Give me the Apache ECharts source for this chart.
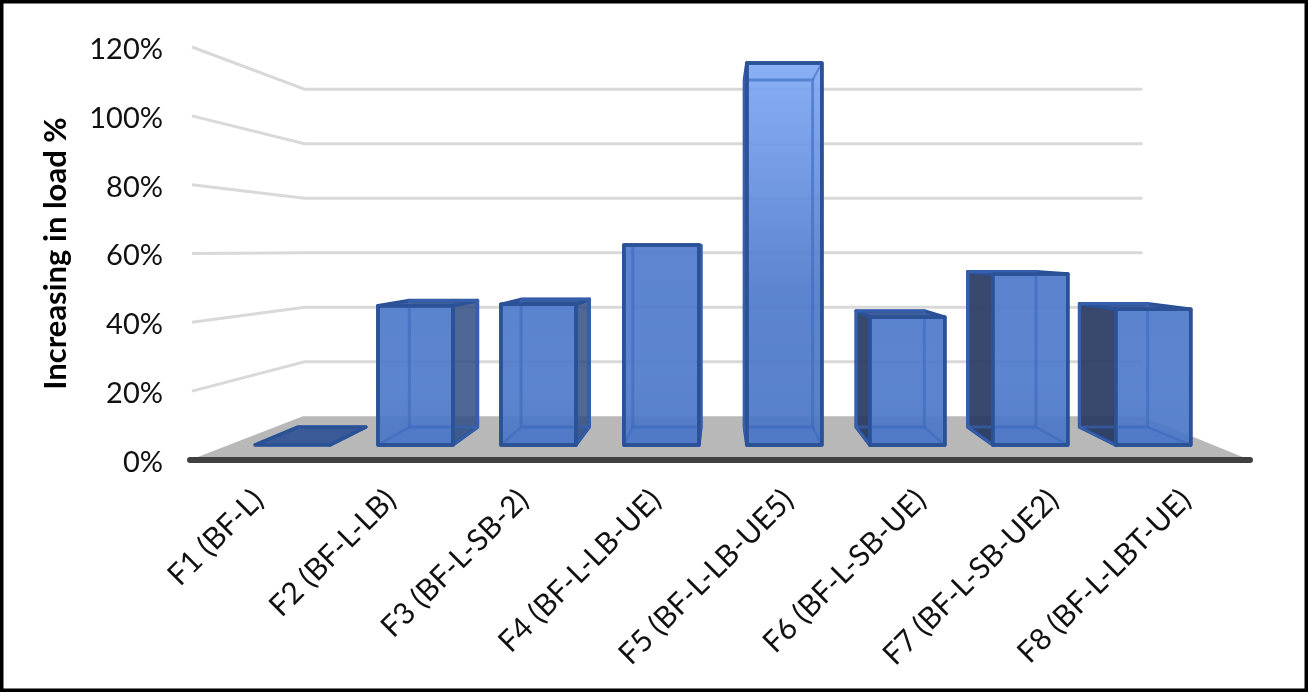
<!DOCTYPE html>
<html>
<head>
<meta charset="utf-8">
<title>Increasing in load</title>
<script src="https://cdn.jsdelivr.net/npm/echarts@6/dist/echarts.min.js"></script>
<style>
html,body{margin:0;padding:0;background:#fff;}
#main{width:1308px;height:692px;}
</style>
</head>
<body>
<div id="main"></div>
<script>
var categories = ['F1 (BF-L)','F2 (BF-L-LB)','F3 (BF-L-SB-2)','F4 (BF-L-LB-UE)','F5 (BF-L-LB-UE5)','F6 (BF-L-SB-UE)','F7 (BF-L-SB-UE2)','F8 (BF-L-LBT-UE)'];
var loadValues = [0,43.6,44,62.6,119.6,40,53.5,42.5];
var yTicks = [0,20,40,60,80,100,120];

// fake 3d: everything is projected towards a vanishing point
var vanishY = 250;
var wall = {x:733, s:0.792};
var barFront = {x:760, s:0.928};
var barBack = {x:737, s:0.843};
var barRatio = 0.61;

function project(p, plane){
	return [plane.x + (p[0]-plane.x)*plane.s, vanishY + (p[1]-vanishY)*plane.s];
}

var edgeColor = '#2b5297';
var innerEdge = 'rgba(60,105,188,0.6)';
var fontName = 'Lato';

function face(points, fill, stroke, width){
	return {
		type:'polygon',
		shape:{points:points},
		style:{fill:fill, stroke:stroke||edgeColor, lineWidth:width||3.5, lineJoin:'round'}
	};
}

function edge(points, width){
	return {
		type:'polyline',
		shape:{points:points},
		style:{fill:null, stroke:innerEdge, lineWidth:width||3}
	};
}

function renderFloor(params, api){
	var cs = params.coordSys;
	var l = [cs.x, cs.y+cs.height], r = [cs.x+cs.width, cs.y+cs.height];
	return {
		type:'polygon',
		shape:{points:[l, project(l,wall), project(r,wall), r]},
		style:{fill:'#b8b8b8'}
	};
}

function renderWallLine(params, api){
	var cs = params.coordSys;
	var y = api.coord([0, api.value(0)])[1];
	var a = [cs.x+2, y], b = [cs.x+cs.width, y];
	return {
		type:'polyline',
		shape:{points:[a, project(a,wall), project(b,wall)]},
		style:{fill:null, stroke:'#d9d9d9', lineWidth:3}
	};
}

// only the tall bar gets the lighter top
function topColor(v){
	var t = Math.max(0, (v-60)/60);
	return 'rgba(' + Math.round(77+51*t) + ',' + Math.round(121+48*t) + ',' + Math.round(203+42*t) + ',0.92)';
}

function renderBar(params, api){
	var i = api.value(0);
	var v = api.value(1);
	var top = api.coord([i, v]);
	var base = api.coord([i, 0]);
	var half = api.size([1,0])[0]*barRatio/2;

	var tl = [top[0]-half, top[1]], tr = [top[0]+half, top[1]];
	var bl = [top[0]-half, base[1]], br = [top[0]+half, base[1]];
	var ftl = project(tl,barFront), ftr = project(tr,barFront);
	var fbl = project(bl,barFront), fbr = project(br,barFront);
	var btl = project(tl,barBack), btr = project(tr,barBack);
	var bbl = project(bl,barBack), bbr = project(br,barBack);

	var frontFill = new echarts.graphic.LinearGradient(0, 0, 0, 1, [
		{offset:0, color:topColor(v)},
		{offset:0.6, color:'rgba(78,122,204,0.92)'},
		{offset:1, color:'rgba(74,118,198,0.92)'}
	]);

	var children = [];
	// floor of the bar
	children.push(face([fbl,fbr,bbr,bbl], 'rgba(94,137,212,0.4)', innerEdge, 3));
	// sides are dark when they stick out of the front face
	if(bbl[0] < fbl[0]){
		children.push(face([ftl,btl,bbl,fbl], 'rgba(42,58,98,0.93)'));
	}
	if(bbr[0] > fbr[0]){
		children.push(face([ftr,btr,bbr,fbr], 'rgba(48,76,130,0.85)'));
	}
	// top
	if(btl[1] < ftl[1]){
		children.push(face([ftl,ftr,btr,btl], 'rgba(54,86,150,0.95)'));
	}
	// front, nothing to show on a zero bar
	if(fbl[1]-ftl[1] > 0){
		children.push(face([ftl,ftr,fbr,fbl], frontFill));
		// back edges show through the front
		children.push(edge([btl,bbl,bbr,btr,btl]));
		children.push(edge([bbl,fbl], 2));
		children.push(edge([bbr,fbr], 2));
		if(btl[1] > ftl[1]){
			children.push(edge([btl,ftl], 2));
			children.push(edge([btr,ftr], 2));
		}
		children.push(face([ftl,ftr,fbr,fbl], 'rgba(0,0,0,0)'));
	}
	return {type:'group', children:children};
}

var chart = echarts.init(document.getElementById('main'));
chart.setOption({
	backgroundColor:'#fff',
	animation:false,
	grid:{left:190, right:58, top:47, bottom:232},
	xAxis:{
		type:'category',
		data:categories,
		z:10,
		axisLine:{lineStyle:{color:'#404040', width:6, cap:'round'}},
		axisTick:{show:false},
		axisLabel:{
			interval:0,
			rotate:45,
			margin:33,
			formatter:function(name){ return '{t|' + name + '}'; },
			rich:{t:{padding:[6,0,0,0], color:'#111', fontFamily:fontName, fontSize:30}}
		}
	},
	yAxis:{
		type:'value',
		min:0,
		max:120,
		interval:20,
		name:'Increasing in load %',
		nameLocation:'middle',
		nameGap:119,
		nameTextStyle:{color:'#000', fontFamily:fontName, fontWeight:'bold', fontSize:31},
		axisLine:{show:false},
		axisTick:{show:false},
		splitLine:{show:false},
		axisLabel:{
			margin:27,
			formatter:function(v){ return '{t|' + v + '%}'; },
			rich:{t:{padding:[5,0,0,0], color:'#111', fontFamily:fontName, fontSize:29}}
		}
	},
	graphic:[{
		type:'rect',
		z:100,
		shape:{x:0,y:0,width:1308,height:692},
		style:{fill:null, stroke:'#000', lineWidth:7}
	}],
	series:[
		{type:'custom', z:1, renderItem:renderFloor, data:[[0]], silent:true},
		{type:'custom', z:2, renderItem:renderWallLine, data:yTicks.slice(1).map(function(t){return [t];}), encode:{y:0}, silent:true},
		{type:'custom', z:3, renderItem:renderBar, data:loadValues.map(function(v,i){return [i,v];}), encode:{x:0,y:1}}
	]
});
</script>
</body>
</html>
